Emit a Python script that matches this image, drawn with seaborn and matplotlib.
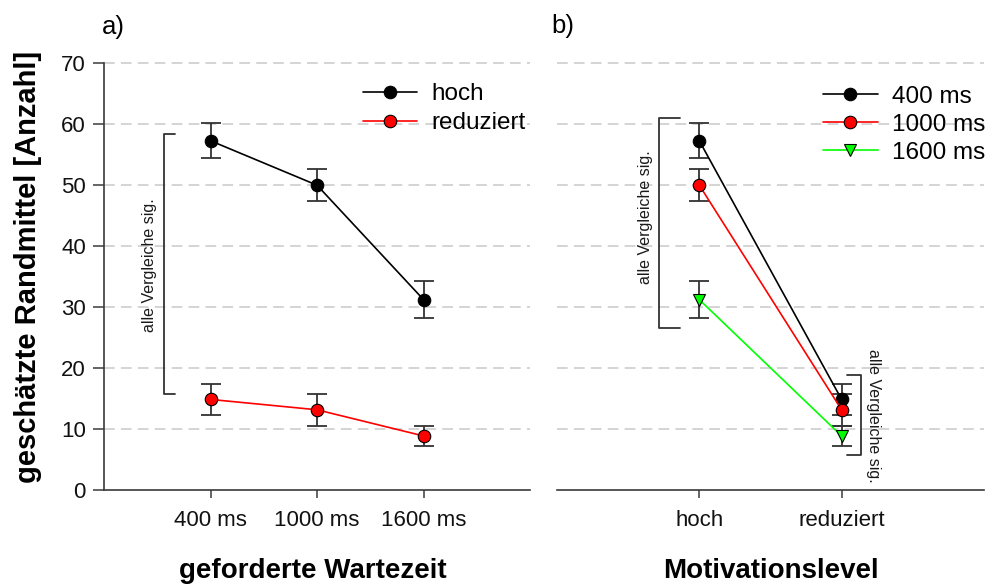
import numpy as np
import pandas as pd
import matplotlib
matplotlib.use("Agg")
import matplotlib.pyplot as plt
from matplotlib.lines import Line2D
import seaborn as sns

# ---- data -------------------------------------------------------------
wartezeit = ["400 ms", "1000 ms", "1600 ms"]
motivation = ["hoch", "reduziert"]

mittel_hoch = [57.3, 50.0, 31.2]
se_hoch = [2.85, 2.65, 3.0]
mittel_reduziert = [14.8, 13.1, 8.8]
se_reduziert = [2.6, 2.65, 1.6]

farben_motivation = {"hoch": "black", "reduziert": "#ff0000"}
farben_wartezeit = {"400 ms": "black", "1000 ms": "#ff0000", "1600 ms": "#00ff00"}
marker_wartezeit = {"400 ms": "o", "1000 ms": "o", "1600 ms": "v"}

df = pd.DataFrame({
    "wartezeit": wartezeit * 2,
    "motivation": ["hoch"] * 3 + ["reduziert"] * 3,
    "mittel": mittel_hoch + mittel_reduziert,
    "se": se_hoch + se_reduziert,
})
df["x_wz"] = df["wartezeit"].map({w: i + 1 for i, w in enumerate(wartezeit)})
df["x_mot"] = df["motivation"].map({m: i + 1 for i, m in enumerate(motivation)})

# ---- style ------------------------------------------------------------
sns.set_theme(style="white")
plt.rcParams["font.family"] = ["Liberation Sans", "DejaVu Sans"]
plt.rcParams["text.color"] = "black"
plt.rcParams["axes.labelcolor"] = "black"

SPINE = "#3a3a3a"
GRID = "#d4d4d4"
TICK_FS = 16
XLABEL_FS = 20
YLABEL_FS = 21
LEG_FS = 17.5
MS = 9

fig = plt.figure(figsize=(9.87, 5.84), dpi=100)
ax1 = fig.add_axes([0.1054, 0.1618, 0.4316, 0.7337])
ax2 = fig.add_axes([0.5643, 0.1618, 0.4326, 0.7337])

for ax in (ax1, ax2):
    ax.set_ylim(0, 70.4)
    ax.set_yticks(np.arange(0, 71, 10))
    for y in range(10, 71, 10):
        ax.axhline(y, color=GRID, lw=1.4, ls=(0, (5.5, 3.2)), zorder=0.5,
                   clip_on=False)
    for s in ("top", "right"):
        ax.spines[s].set_visible(False)
    ax.spines["bottom"].set_color(SPINE)
    ax.spines["bottom"].set_linewidth(1.2)
    ax.tick_params(axis="x", direction="out", length=6, width=1.1,
                   color=SPINE, labelsize=TICK_FS, pad=9, bottom=True,
                   labelcolor="#111111")

# ---- panel a ----------------------------------------------------------
ax1.errorbar(df["x_wz"], df["mittel"], yerr=df["se"], fmt="none",
             ecolor="#333333", elinewidth=1.3, capsize=7, capthick=1.3,
             zorder=1.5)
sns.lineplot(data=df, x="x_wz", y="mittel", hue="motivation",
             palette=farben_motivation, marker="o", markersize=MS,
             markeredgecolor="black", markeredgewidth=0.8, linewidth=1.2,
             errorbar=None, sort=False, legend=False, ax=ax1, zorder=3)
ax1.set_xlim(0, 4)
ax1.set_xticks([1, 2, 3])
ax1.set_xticklabels(wartezeit)
ax1.spines["left"].set_color(SPINE)
ax1.spines["left"].set_linewidth(1.2)
ax1.spines["left"].set_bounds(0, 70)
ax1.tick_params(axis="y", direction="out", length=8, width=1.1, color=SPINE,
                labelsize=TICK_FS, pad=5, left=True, labelcolor="#111111")
ax1.set_xlabel("geforderte Wartezeit", fontsize=XLABEL_FS, fontweight="bold",
               color="black")
ax1.xaxis.set_label_coords(0.49, -0.16)
ax1.set_ylabel("geschätzte Randmittel [Anzahl]", fontsize=YLABEL_FS,
               fontweight="bold", color="black")
ax1.yaxis.set_label_coords(-0.145, 0.52)

# significance bracket
ax1.plot([0.667, 0.563, 0.563, 0.667], [58.4, 58.4, 15.7, 15.7],
         color="#333333", lw=1.3, zorder=2)
ax1.text(0.43, 36.9, "alle Vergleiche sig.", rotation=90, ha="center",
         va="center", fontsize=11.5, color="#1a1a1a")

leg1 = [Line2D([], [], color=farben_motivation[m], marker="o", markersize=MS,
               markeredgecolor="black", markeredgewidth=0.8, lw=1.2)
        for m in motivation]
ax1.legend(leg1, motivation, loc="upper left", bbox_to_anchor=(0.584, 0.971),
           frameon=False, fontsize=LEG_FS, handlelength=2.26,
           handletextpad=0.58, labelspacing=0.3, borderaxespad=0)

# ---- panel b ----------------------------------------------------------
ax2.errorbar(df["x_mot"], df["mittel"], yerr=df["se"], fmt="none",
             ecolor="#333333", elinewidth=1.3, capsize=7, capthick=1.3,
             zorder=1.5)
sns.lineplot(data=df, x="x_mot", y="mittel", hue="wartezeit",
             style="wartezeit", markers=marker_wartezeit, dashes=False,
             palette=farben_wartezeit, markersize=MS,
             markeredgecolor="black", markeredgewidth=0.8, linewidth=1.2,
             errorbar=None, sort=False, legend=False, ax=ax2, zorder=3)
ax2.set_xlim(0, 3)
ax2.set_xticks([1, 2])
ax2.set_xticklabels(motivation)
ax2.spines["left"].set_visible(False)
ax2.tick_params(axis="y", left=False, labelleft=False)
ax2.set_xlabel("Motivationslevel", fontsize=XLABEL_FS, fontweight="bold",
               color="black")
ax2.xaxis.set_label_coords(0.5, -0.16)
ax2.set_ylabel("")

ax2.plot([0.866, 0.72, 0.72, 0.866], [61.0, 61.0, 26.6, 26.6],
         color="#333333", lw=1.3, zorder=2)
ax2.text(0.62, 44.7, "alle Vergleiche sig.", rotation=90, ha="center",
         va="center", fontsize=11.5, color="#1a1a1a")
ax2.plot([2.04, 2.134, 2.134, 2.04], [18.8, 18.8, 5.75, 5.75],
         color="#333333", lw=1.3, zorder=2)
ax2.text(2.223, 12.1, "alle Vergleiche sig.", rotation=270, ha="center",
         va="center", fontsize=11.5, color="#1a1a1a")

leg2 = [Line2D([], [], color=farben_wartezeit[w], marker=marker_wartezeit[w],
               markersize=MS, markeredgecolor="black", markeredgewidth=0.8,
               lw=1.2) for w in wartezeit]
ax2.legend(leg2, wartezeit, loc="upper left", bbox_to_anchor=(0.600, 0.965),
           frameon=False, fontsize=LEG_FS, handlelength=2.26,
           handletextpad=0.58, labelspacing=0.25, borderaxespad=0)

# ---- panel letters ----------------------------------------------------
fig.text(113 / 987, 1 - 27 / 584, "a)", fontsize=18.5, ha="center", va="center")
fig.text(563 / 987, 1 - 26 / 584, "b)", fontsize=18.5, ha="center", va="center")

fig.savefig("out.png", dpi=100, facecolor="white")
